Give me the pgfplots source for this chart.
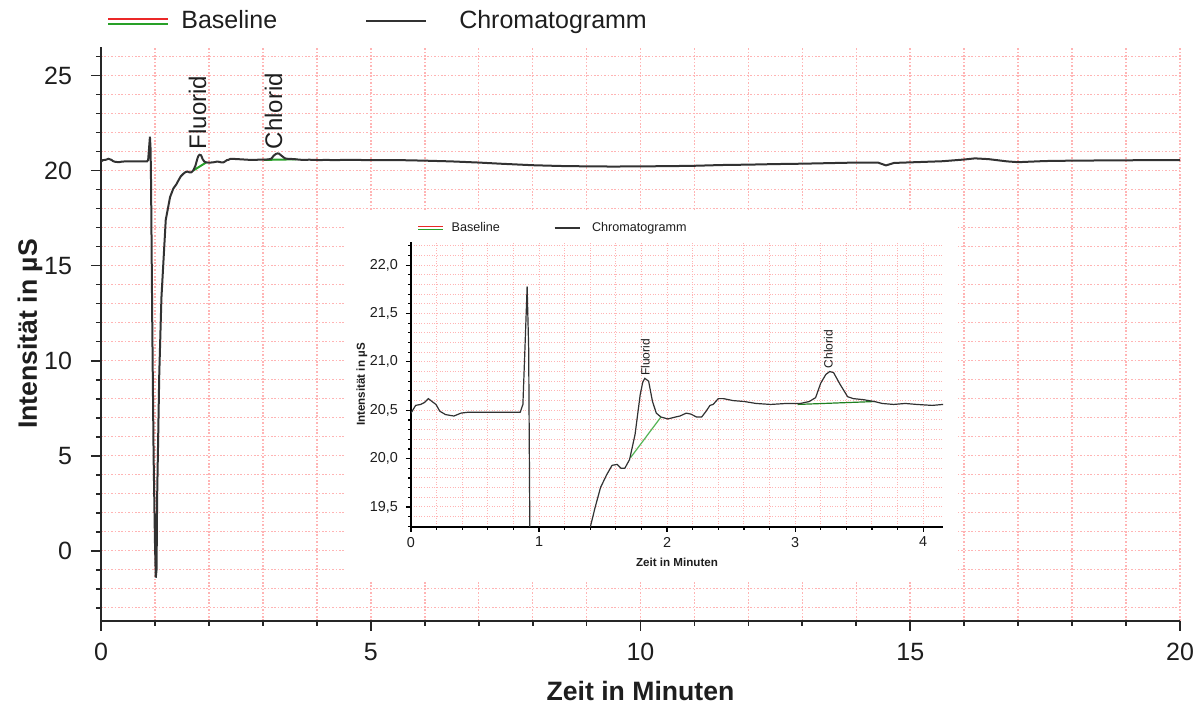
\documentclass[border=0pt]{standalone}
\usepackage{fontspec}
\setmainfont{Liberation Sans}
\usepackage{pgfplots}
\usepackage{pgfplotstable}
\pgfplotsset{compat=1.18}

\definecolor{gridpink}{RGB}{255,180,180}
\definecolor{curve}{RGB}{50,50,50}
\definecolor{blgreen}{RGB}{40,160,40}
\definecolor{blred}{RGB}{235,40,40}
\definecolor{txt}{RGB}{30,30,30}

% chromatogram (time in min, intensity in uS)
\pgfplotstableread{
t y
0.000 20.47
0.036 20.55
0.075 20.56
0.105 20.58
0.135 20.62
0.165 20.59
0.195 20.56
0.225 20.49
0.270 20.455
0.335 20.44
0.390 20.47
0.450 20.48
0.570 20.48
0.720 20.48
0.853 20.48
0.874 20.56
0.890 21.14
0.907 21.78
0.919 21.14
0.928 19.29
0.950 12.00
0.975 5.00
1.000 0.50
1.015 -1.42
1.030 -1.00
1.040 2.70
1.080 9.30
1.120 13.30
1.200 17.40
1.280 18.60
1.340 19.05
1.400 19.29
1.437 19.49
1.480 19.70
1.527 19.83
1.570 19.93
1.610 19.94
1.640 19.90
1.670 19.90
1.707 19.99
1.750 20.25
1.790 20.66
1.810 20.79
1.826 20.83
1.856 20.80
1.886 20.59
1.916 20.47
1.952 20.43
2.006 20.41
2.066 20.43
2.100 20.44
2.150 20.47
2.186 20.46
2.230 20.43
2.270 20.43
2.305 20.49
2.335 20.55
2.360 20.56
2.400 20.62
2.440 20.62
2.515 20.60
2.605 20.59
2.695 20.57
2.810 20.56
2.930 20.57
3.040 20.57
3.110 20.59
3.160 20.63
3.200 20.78
3.240 20.87
3.270 20.90
3.300 20.89
3.350 20.77
3.410 20.64
3.455 20.62
3.530 20.61
3.620 20.59
3.680 20.57
3.770 20.56
3.860 20.57
3.950 20.56
4.070 20.55
4.155 20.56
4.300 20.55
4.600 20.56
5.000 20.55
5.500 20.55
6.000 20.52
6.500 20.48
7.000 20.42
7.400 20.36
8.000 20.28
8.500 20.24
9.000 20.22
9.500 20.21
10.000 20.22
10.500 20.23
11.000 20.25
11.500 20.29
12.000 20.31
12.500 20.34
13.000 20.36
13.500 20.39
14.000 20.42
14.400 20.42
14.550 20.27
14.700 20.40
15.000 20.43
15.600 20.49
16.000 20.58
16.200 20.64
16.450 20.60
16.800 20.48
17.000 20.44
17.500 20.50
18.000 20.52
19.000 20.54
20.000 20.55
}\chrom

% baselines under the two peaks
\pgfplotstableread{
t y
1.715 20.01
1.952 20.43
}\blF
\pgfplotstableread{
t y
3.020 20.56
3.620 20.59
}\blC

\begin{document}
\begin{tikzpicture}
\useasboundingbox (0,0) rectangle (598pt,353.5pt);

\begin{axis}[
    at={(50.5pt,43pt)}, anchor=south west,
    scale only axis, width=539.5pt, height=287pt,
    xmin=0, xmax=20, ymin=-3.7, ymax=26.5,
    axis lines=left,
    axis line style={-, line width=1pt, black!85},
    xtick={0,5,...,20}, minor xtick={0,1,...,20},
    ytick={0,5,...,25}, minor ytick={-3,-2,...,26},
    tick align=outside,
    major tick length=5pt, minor tick length=2.5pt,
    tick style={black!85, line width=0.9pt},
    grid=both,
    major grid style={gridpink, line width=0.8pt, dash pattern=on 0.8pt off 0.9pt},
    minor grid style={gridpink, line width=0.8pt, dash pattern=on 0.8pt off 0.9pt},
    /pgf/number format/assume math mode=true,
    tick label style={font=\fontsize{12.5}{15}\selectfont, text=txt},
    xticklabel shift=2.5pt, yticklabel shift=6pt,
    xlabel={Zeit in Minuten}, ylabel={Intensität in µS},
    label style={font=\bfseries\fontsize{13.3}{15}\selectfont, text=txt},
    xlabel style={at={([yshift=-35pt]axis description cs:0.5,0)}, anchor=center},
    ylabel style={at={([xshift=-35.5pt]axis description cs:0,0.5)}, anchor=center},
    legend columns=2,
    legend style={at={(axis description cs:0.0,1.045)}, anchor=west, draw=none, fill=none,
        font=\fontsize{12.5}{15}\selectfont, text=txt,
        /tikz/every even column/.append style={column sep=42pt}},
]
\addlegendimage{legend image code/.code={
    \draw[blred, line width=1pt] (0pt,1.3pt) -- (30pt,1.3pt);
    \draw[blgreen, line width=1pt] (0pt,-1.3pt) -- (30pt,-1.3pt);}}
\addlegendentry{\hspace{4pt}Baseline}
\addlegendimage{legend image code/.code={
    \draw[curve, line width=1pt] (0pt,0pt) -- (30pt,0pt);}}
\addlegendentry{\hspace{14pt}Chromatogramm}

\addplot[blgreen, line width=1pt, forget plot] table[x=t, y=y] {\blF};
\addplot[blgreen, line width=1pt, forget plot] table[x=t, y=y] {\blC};
\addplot[curve, line width=1pt, forget plot] table[x=t, y=y] {\chrom};

\node[rotate=90, anchor=west, inner sep=0pt, font=\fontsize{12}{14}\selectfont, text=txt]
    at (axis cs:1.79,21.1) {Fluorid};
\node[rotate=90, anchor=west, inner sep=0pt, font=\fontsize{12}{14}\selectfont, text=txt]
    at (axis cs:3.20,21.1) {Chlorid};
\end{axis}

% white panel behind the zoomed inset
\fill[white] (172.5pt,62.5pt) rectangle (479pt,248.5pt);

\begin{axis}[
    at={(205.5pt,90pt)}, anchor=south west,
    scale only axis, width=266pt, height=142.5pt,
    xmin=0, xmax=4.155, ymin=19.293, ymax=22.24,
    axis lines=left,
    axis line style={-, line width=0.7pt, black},
    xtick={0,1,2,3,4},
    minor xtick={0.2,0.4,0.6,0.8,1.2,1.4,1.6,1.8,2.2,2.4,2.6,2.8,3.2,3.4,3.6,3.8},
    ytick={19.5,20,20.5,21,21.5,22},
    minor ytick={19.3,19.4,19.6,19.7,19.8,19.9,20.1,20.2,20.3,20.4,20.6,20.7,20.8,20.9,21.1,21.2,21.3,21.4,21.6,21.7,21.8,21.9,22.1,22.2},
    tick align=outside,
    major tick length=2.5pt, minor tick length=1.5pt,
    tick style={black, line width=0.6pt},
    grid=both,
    major grid style={gridpink, line width=0.5pt, dash pattern=on 0.5pt off 0.8pt},
    minor grid style={gridpink, line width=0.5pt, dash pattern=on 0.5pt off 0.8pt},
    /pgf/number format/assume math mode=true,
    tick label style={font=\fontsize{7.2}{8.5}\selectfont, text=txt},
    yticklabel style={/pgf/number format/.cd, fixed, fixed zerofill, precision=1, use comma},
    xticklabel shift=-1pt, yticklabel shift=0.5pt,
    xlabel={Zeit in Minuten}, ylabel={Intensität in µS},
    label style={font=\bfseries\fontsize{5.8}{7}\selectfont, text=txt},
    xlabel style={at={([yshift=-17.5pt]axis description cs:0.5,0)}, anchor=center},
    ylabel style={at={([xshift=-24.5pt]axis description cs:0,0.5)}, anchor=center},
    legend columns=2,
    legend style={at={(axis description cs:0.0,1.049)}, anchor=west, draw=none, fill=none,
        font=\fontsize{6.3}{7.5}\selectfont, text=txt,
        /tikz/every even column/.append style={column sep=25pt}},
]
\addlegendimage{legend image code/.code={
    \draw[blred, line width=0.6pt] (0pt,0.7pt) -- (12.5pt,0.7pt);
    \draw[blgreen, line width=0.6pt] (0pt,-0.7pt) -- (12.5pt,-0.7pt);}}
\addlegendentry{\hspace{2pt}Baseline}
\addlegendimage{legend image code/.code={
    \draw[curve, line width=0.6pt] (0pt,0pt) -- (12.5pt,0pt);}}
\addlegendentry{\hspace{4pt}Chromatogramm}

\addplot[blgreen!80, line width=0.6pt, forget plot] table[x=t, y=y] {\blF};
\addplot[blgreen!80!black, line width=0.6pt, forget plot] table[x=t, y=y] {\blC};
\addplot[curve, line width=0.6pt, forget plot] table[x=t, y=y] {\chrom};

\node[rotate=90, anchor=west, inner sep=0pt, font=\fontsize{6}{7}\selectfont, text=txt]
    at (axis cs:1.83,20.85) {Fluorid};
\node[rotate=90, anchor=west, inner sep=0pt, font=\fontsize{6}{7}\selectfont, text=txt]
    at (axis cs:3.26,20.93) {Chlorid};
\end{axis}
\end{tikzpicture}
\end{document}
